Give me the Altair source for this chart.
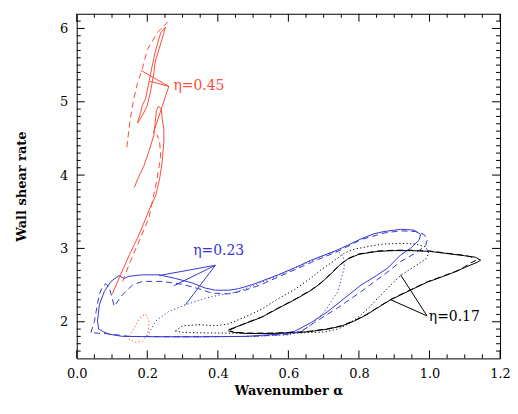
import altair as alt
import pandas as pd

RED = "#ff4b3a"
BLUE = "#3636d2"
BLACK = "#000000"

# ---------------- eta = 0.17 (black) ----------------
k_solid_x = [0.430, 0.480, 0.524, 0.570, 0.618, 0.665, 0.693, 0.720, 0.745, 0.770, 0.800, 0.853, 0.900, 0.946,
             1.000, 1.050, 1.100, 1.130, 1.145, 1.135, 1.100, 1.078, 1.040, 0.994, 0.950, 0.890, 0.853, 0.820,
             0.787, 0.750, 0.712, 0.660, 0.618, 0.550, 0.480, 0.445, 0.430]
k_solid_y = [1.89, 1.98, 2.06, 2.18, 2.30, 2.43, 2.53, 2.65, 2.77, 2.86, 2.92, 2.96, 2.97, 2.97,
             2.96, 2.93, 2.90, 2.88, 2.84, 2.81, 2.74, 2.69, 2.62, 2.54, 2.44, 2.30, 2.19, 2.09,
             2.01, 1.94, 1.90, 1.865, 1.85, 1.84, 1.84, 1.855, 1.875]
k_dash_x = [0.435, 0.480, 0.524, 0.570, 0.618, 0.665, 0.693, 0.720, 0.745, 0.770, 0.800, 0.853, 0.900, 0.946,
            1.000, 1.050, 1.100, 1.125, 1.130, 1.115, 1.100, 1.078, 1.040, 0.994, 0.950, 0.890, 0.853, 0.820,
            0.787, 0.750, 0.712, 0.660, 0.618, 0.550, 0.480, 0.445, 0.435]
k_dash_y = [1.89, 1.985, 2.065, 2.185, 2.305, 2.435, 2.535, 2.655, 2.775, 2.865, 2.925, 2.965, 2.975, 2.975,
            2.965, 2.935, 2.905, 2.875, 2.83, 2.80, 2.75, 2.695, 2.625, 2.545, 2.445, 2.305, 2.195, 2.095,
            2.015, 1.945, 1.905, 1.87, 1.855, 1.845, 1.845, 1.86, 1.875]
k_dot_x = [0.280, 0.300, 0.346, 0.393, 0.430, 0.470, 0.524, 0.570, 0.618, 0.665, 0.693, 0.720, 0.740, 0.760,
           0.787, 0.830, 0.870, 0.920, 0.960, 0.990, 0.998, 0.990, 0.960, 0.930, 0.918, 0.890, 0.853, 0.830,
           0.800, 0.770, 0.740, 0.700, 0.620, 0.520, 0.430, 0.364, 0.300, 0.280]
k_dot_y = [1.875, 1.945, 1.96, 1.945, 1.97, 2.05, 2.17, 2.31, 2.44, 2.60, 2.71, 2.80, 2.87, 2.94,
           2.99, 3.03, 3.06, 3.07, 3.06, 3.02, 2.93, 2.86, 2.76, 2.67, 2.63, 2.50, 2.32, 2.20,
           2.07, 1.97, 1.90, 1.86, 1.845, 1.84, 1.845, 1.848, 1.855, 1.875]

# ---------------- eta = 0.23 (blue) ----------------
b_solid_x = [0.062, 0.059, 0.064, 0.078, 0.097, 0.120, 0.134, 0.148, 0.186, 0.233, 0.280, 0.327, 0.364, 0.393,
             0.430, 0.458, 0.500, 0.571, 0.620, 0.665, 0.740, 0.806, 0.843, 0.871, 0.918, 0.956, 0.975, 0.970,
             0.946, 0.918, 0.881, 0.850, 0.806, 0.759, 0.712, 0.665, 0.618, 0.571, 0.477, 0.350, 0.224, 0.130,
             0.092, 0.073, 0.062]
b_solid_y = [1.90, 2.01, 2.23, 2.41, 2.55, 2.63, 2.59, 2.62, 2.64, 2.64, 2.59, 2.53, 2.46, 2.43,
             2.43, 2.45, 2.51, 2.64, 2.74, 2.84, 2.98, 3.13, 3.20, 3.23, 3.26, 3.25, 3.19, 3.11,
             3.00, 2.91, 2.73, 2.63, 2.50, 2.32, 2.14, 1.99, 1.87, 1.83, 1.80, 1.795, 1.795, 1.80,
             1.83, 1.87, 1.90]
b_dash_x = [0.040, 0.050, 0.055, 0.064, 0.073, 0.083, 0.092, 0.100, 0.106, 0.130, 0.158, 0.186, 0.242, 0.299,
            0.346, 0.383, 0.430, 0.470, 0.520, 0.571, 0.665, 0.740, 0.806, 0.871, 0.918, 0.960, 0.985, 0.994,
            0.989, 0.965, 0.918, 0.871, 0.853, 0.806, 0.740, 0.674, 0.637, 0.600, 0.500, 0.300, 0.150, 0.090,
            0.060, 0.040]
b_dash_y = [1.85, 2.00, 2.14, 2.37, 2.48, 2.52, 2.47, 2.33, 2.21, 2.37, 2.50, 2.55, 2.55, 2.51,
            2.45, 2.39, 2.38, 2.42, 2.50, 2.61, 2.81, 2.96, 3.12, 3.21, 3.24, 3.23, 3.19, 3.12,
            3.04, 2.95, 2.82, 2.64, 2.58, 2.41, 2.19, 1.99, 1.87, 1.83, 1.80, 1.795, 1.80, 1.835,
            1.845, 1.85]
b_dot_x = [0.200, 0.205, 0.224, 0.261, 0.308, 0.364, 0.411, 0.449, 0.500, 0.571, 0.665, 0.720, 0.740, 0.755,
           0.759, 0.740, 0.703, 0.665, 0.637, 0.600, 0.500, 0.350, 0.200]
b_dot_y = [1.80, 1.85, 2.01, 2.14, 2.23, 2.32, 2.37, 2.40, 2.49, 2.63, 2.83, 2.94, 2.96, 2.90,
           2.75, 2.41, 2.14, 1.96, 1.87, 1.82, 1.80, 1.795, 1.80]

# ---------------- eta = 0.45 (red) ----------------
r_solid1_x = [0.101, 0.125, 0.150, 0.175, 0.195, 0.210, 0.224, 0.235, 0.242, 0.247, 0.247, 0.242, 0.240,
              0.232, 0.226, 0.222, 0.219, 0.205, 0.190, 0.175, 0.163]
r_solid1_y = [2.38, 2.65, 2.92, 3.17, 3.40, 3.58, 3.72, 3.95, 4.17, 4.45, 4.62, 4.78, 4.90,
              4.94, 4.88, 4.70, 4.55, 4.33, 4.12, 3.97, 3.83]
r_solid2_x = [0.172, 0.181, 0.186, 0.195, 0.205, 0.214, 0.224, 0.238, 0.252, 0.247, 0.233, 0.224, 0.221,
              0.219, 0.210, 0.200, 0.190, 0.178, 0.172]
r_solid2_y = [4.71, 4.85, 4.95, 5.04, 5.27, 5.49, 5.71, 5.94, 6.02, 5.94, 5.71, 5.57, 5.50,
              5.40, 5.16, 4.95, 4.85, 4.75, 4.71]
r_dash1_x = [0.142, 0.150, 0.160, 0.172, 0.186, 0.200, 0.228, 0.258]
r_dash1_y = [4.38, 4.70, 5.00, 5.25, 5.45, 5.71, 5.94, 6.09]
r_dash2_x = [0.130, 0.150, 0.177, 0.205, 0.214, 0.228, 0.238, 0.235, 0.228]
r_dash2_y = [2.55, 2.80, 3.10, 3.42, 3.63, 3.95, 4.26, 4.45, 4.55]
r_dot_x = [0.195, 0.205, 0.203, 0.200, 0.186, 0.167, 0.148, 0.152, 0.158, 0.177, 0.185, 0.195]
r_dot_y = [2.10, 2.01, 1.90, 1.83, 1.73, 1.72, 1.76, 1.82, 1.87, 2.03, 2.08, 2.10]

# ---------------- labels and leader lines ----------------
label_text = ["η=0.45", "η=0.23", "η=0.17"]
label_x = [0.274, 0.330, 0.998]
label_y = [5.21, 2.97, 2.06]
label_color = [RED, BLUE, BLACK]

leader_from = [(0.261, 5.21), (0.261, 5.21), (0.261, 5.21),
               (0.393, 2.77), (0.393, 2.77), (0.393, 2.77),
               (0.993, 2.08), (0.993, 2.08)]
leader_to = [(0.181, 5.43), (0.207, 5.28), (0.217, 4.57),
             (0.233, 2.63), (0.275, 2.49), (0.308, 2.23),
             (0.890, 2.30), (0.918, 2.64)]
leader_color = [RED, RED, RED, BLUE, BLUE, BLUE, BLACK, BLACK]

# ---------------- axis ticks ----------------
x_major = [0.0, 0.2, 0.4, 0.6, 0.8, 1.0, 1.2]
x_minor = [0.05, 0.10, 0.15, 0.25, 0.30, 0.35, 0.45, 0.50, 0.55, 0.65, 0.70, 0.75,
           0.85, 0.90, 0.95, 1.05, 1.10, 1.15]
y_major = [2, 3, 4, 5, 6]
y_minor = [1.6, 1.7, 1.8, 1.9, 2.1, 2.2, 2.3, 2.4, 2.5, 2.6, 2.7, 2.8, 2.9,
           3.1, 3.2, 3.3, 3.4, 3.5, 3.6, 3.7, 3.8, 3.9, 4.1, 4.2, 4.3, 4.4, 4.5, 4.6, 4.7, 4.8, 4.9,
           5.1, 5.2, 5.3, 5.4, 5.5, 5.6, 5.7, 5.8, 5.9, 6.1]

curves = [
    ("k_solid", k_solid_x, k_solid_y, BLACK, "solid"),
    ("k_dash", k_dash_x, k_dash_y, BLACK, "dashed"),
    ("k_dot", k_dot_x, k_dot_y, BLACK, "dotted"),
    ("b_solid", b_solid_x, b_solid_y, BLUE, "solid"),
    ("b_dash", b_dash_x, b_dash_y, BLUE, "dashed"),
    ("b_dot", b_dot_x, b_dot_y, BLUE, "dotted"),
    ("r_solid1", r_solid1_x, r_solid1_y, RED, "solid"),
    ("r_solid2", r_solid2_x, r_solid2_y, RED, "solid"),
    ("r_dash1", r_dash1_x, r_dash1_y, RED, "dashed"),
    ("r_dash2", r_dash2_x, r_dash2_y, RED, "dashed"),
    ("r_dot", r_dot_x, r_dot_y, RED, "dotted"),
]
for j, (a, b) in enumerate(zip(leader_from, leader_to)):
    curves.append((f"leader{j}", [a[0], b[0]], [a[1], b[1]], leader_color[j], "solid"))

rows = []
for name, xs, ys, col, sty in curves:
    for i, (a, b) in enumerate(zip(xs, ys)):
        rows.append({"curve": name, "i": i, "x": a, "y": b, "color": col, "style": sty})
df = pd.DataFrame(rows)

W, H = 425, 346
FONT = "DejaVu Serif"

xscale = alt.Scale(domain=[0, 1.2], nice=False, zero=False)
yscale = alt.Scale(domain=[1.5, 6.2], nice=False, zero=False)
xaxis = alt.Axis(values=x_major, format=".1f", ticks=False, domain=False, grid=False,
                 labelFont=FONT, labelFontSize=13, labelPadding=9, labelColor="black", labelFlush=False,
                 title="Wavenumber α", titleFont=FONT, titleFontSize=13, titleFontWeight="bold",
                 titlePadding=4, titleColor="black")
yaxis = alt.Axis(values=y_major, format="d", ticks=False, domain=False, grid=False,
                 labelFont=FONT, labelFontSize=13, labelPadding=9, labelColor="black", labelFlush=False,
                 title="Wall shear rate", titleFont=FONT, titleFontSize=13, titleFontWeight="bold",
                 titlePadding=31, titleColor="black")
X = alt.X("x:Q", scale=xscale, axis=xaxis)
Y = alt.Y("y:Q", scale=yscale, axis=yaxis)

dashes = {"solid": None, "dashed": [6, 4], "dotted": [1.2, 2.4]}
layers = []
for sty, d in dashes.items():
    kw = dict(strokeWidth=1, clip=True)
    if d is not None:
        kw["strokeDash"] = d
    layers.append(
        alt.Chart(df).transform_filter(alt.datum.style == sty).mark_line(**kw).encode(
            x=X, y=Y,
            color=alt.Color("color:N", scale=None),
            detail="curve:N",
            order="i:Q",
        )
    )

lab_df = pd.DataFrame({"x": label_x, "y": label_y, "t": label_text, "color": label_color})
layers.append(
    alt.Chart(lab_df).mark_text(align="left", baseline="middle", font=FONT, fontSize=14).encode(
        x=X, y=Y, text="t:N", color=alt.Color("color:N", scale=None)
    )
)

# inward ticks on all four sides
xt_major = pd.DataFrame({"x": x_major})
xt_minor = pd.DataFrame({"x": x_minor})
yt_major = pd.DataFrame({"y": y_major})
yt_minor = pd.DataFrame({"y": y_minor})
MAJ, MIN = 8, 4
for dfx, L in [(xt_major, MAJ), (xt_minor, MIN)]:
    layers.append(alt.Chart(dfx).mark_rule(color="black", strokeWidth=1).encode(
        x=X, y=alt.value(0), y2=alt.value(L)))
    layers.append(alt.Chart(dfx).mark_rule(color="black", strokeWidth=1).encode(
        x=X, y=alt.value(H), y2=alt.value(H - L)))
for dfy, L in [(yt_major, MAJ), (yt_minor, MIN)]:
    layers.append(alt.Chart(dfy).mark_rule(color="black", strokeWidth=1).encode(
        y=Y, x=alt.value(0), x2=alt.value(L)))
    layers.append(alt.Chart(dfy).mark_rule(color="black", strokeWidth=1).encode(
        y=Y, x=alt.value(W), x2=alt.value(W - L)))

chart = alt.layer(*layers).properties(
    width=W, height=H,
    autosize=alt.AutoSizeParams(type="none"),
    padding={"left": 69, "top": 5, "right": 10, "bottom": 50},
).configure_view(stroke="black", strokeWidth=1)

chart.save("out.html", embed_options={"renderer": "svg", "actions": False})
